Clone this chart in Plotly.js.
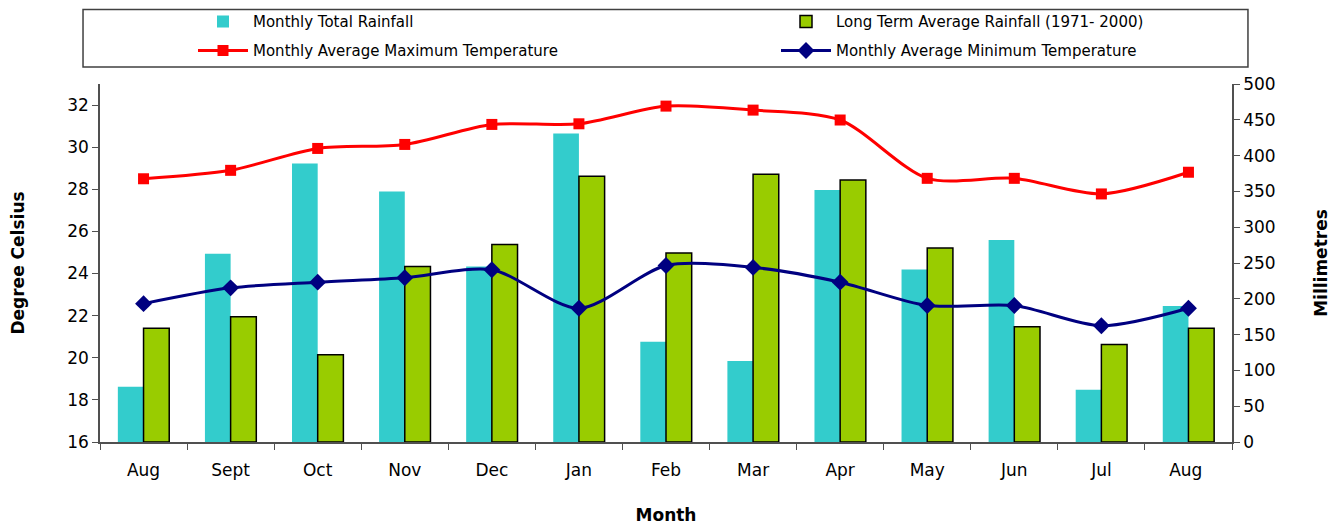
<!DOCTYPE html>
<html>
<head>
<meta charset="utf-8">
<script src="https://cdn.plot.ly/plotly-3.0.1.min.js"></script>
<style>html,body{margin:0;padding:0;background:#fff;}#chart{width:1344px;height:526px;}</style>
</head>
<body>
<div id="chart"></div>
<script>
const months = ["Aug", "Sept", "Oct", "Nov", "Dec", "Jan", "Feb", "Mar", "Apr", "May", "Jun", "Jul", "Aug "];
const monthlyRainfall = [77, 263, 389, 350, 245, 431, 140, 113, 352, 241, 282, 73, 190];
const longTermRainfall = [159, 175, 122, 245, 276, 371, 264, 374, 366, 271, 161, 136, 159];
const maxTemp = [28.5, 28.9, 29.94, 30.13, 31.08, 31.11, 31.95, 31.76, 31.29, 28.52, 28.52, 27.78, 28.81];
const minTemp = [22.57, 23.32, 23.59, 23.8, 24.18, 22.35, 24.38, 24.29, 23.59, 22.48, 22.48, 21.52, 22.35];

const font = "DejaVu Sans, Liberation Sans, Arial, sans-serif";

const traces = [
  {type: "bar", name: "Monthly Total Rainfall", x: months, y: monthlyRainfall, yaxis: "y",
   legend: "legend",
   marker: {color: "#33CCCC", line: {width: 0}}},
  {type: "bar", name: "Long Term Average Rainfall (1971- 2000)", x: months, y: longTermRainfall, yaxis: "y",
   legend: "legend2",
   marker: {color: "#99CC00", line: {color: "#000000", width: 1.5}}},
  {type: "scatter", mode: "lines+markers", name: "Monthly Average Maximum Temperature", x: months, y: maxTemp, yaxis: "y2",
   legend: "legend3",
   line: {color: "#FF0000", width: 3, shape: "spline", smoothing: 0.8},
   marker: {symbol: "square", size: 11, color: "#FF0000"}},
  {type: "scatter", mode: "lines+markers", name: "Monthly Average Minimum Temperature", x: months, y: minTemp, yaxis: "y2",
   legend: "legend4",
   line: {color: "#000080", width: 3, shape: "spline", smoothing: 0.8},
   marker: {symbol: "diamond", size: 13, color: "#000080"}}
];

const axisLine = "#505050";
const legendCommon = {orientation: "h", xref: "container", yref: "container",
  xanchor: "left", yanchor: "top", itemwidth: 50,
  font: {family: font, size: 15, color: "#000"}, bgcolor: "rgba(0,0,0,0)", borderwidth: 0};

const layout = {
  width: 1344, height: 526,
  margin: {l: 100, r: 112, t: 84, b: 84},
  paper_bgcolor: "#ffffff", plot_bgcolor: "#ffffff",
  font: {family: font, color: "#000000", size: 17},
  barmode: "group", bargap: 0.41, bargroupgap: 0,
  showlegend: true,
  legend: Object.assign({}, legendCommon, {x: 193 / 1344, y: 0.99}),
  legend2: Object.assign({}, legendCommon, {x: 776 / 1344, y: 0.99}),
  legend3: Object.assign({}, legendCommon, {x: 193 / 1344, y: 0.9348}),
  legend4: Object.assign({}, legendCommon, {x: 776 / 1344, y: 0.9348}),
  xaxis: {type: "category", range: [-0.5, 12.5], tickson: "boundaries", ticks: "outside", ticklen: 6, tickcolor: axisLine,
    showline: true, linecolor: axisLine, linewidth: 1.5, showgrid: false, zeroline: false,
    tickfont: {family: font, size: 17}, ticklabelstandoff: 12,
    title: {text: "<b>Month</b>", font: {family: font, size: 17}, standoff: 30}},
  yaxis: {side: "right", range: [0, 500], dtick: 50, ticks: "outside", ticklen: 6, tickcolor: axisLine,
    showline: true, linecolor: axisLine, linewidth: 1.5, showgrid: false, zeroline: false,
    tickfont: {family: font, size: 17},
    title: {text: "<b>Millimetres</b>", font: {family: font, size: 17}, standoff: 40}},
  yaxis2: {overlaying: "y", side: "left", range: [16, 33], tickvals: [16,18,20,22,24,26,28,30,32],
    ticks: "outside", ticklen: 6, tickcolor: axisLine,
    showline: true, linecolor: axisLine, linewidth: 1.5, showgrid: false, zeroline: false,
    tickfont: {family: font, size: 17},
    title: {text: "<b>Degree Celsius</b>", font: {family: font, size: 17}, standoff: 38}},
  shapes: [
    {type: "rect", xref: "paper", yref: "paper", x0: -0.015, x1: 1.0141, y0: 1.0475, y1: 1.2081,
     line: {color: "#404040", width: 1.5}, fillcolor: "#ffffff", layer: "below"}
  ]
};

Plotly.newPlot("chart", traces, layout, {displayModeBar: false, responsive: false});
</script>
</body>
</html>
